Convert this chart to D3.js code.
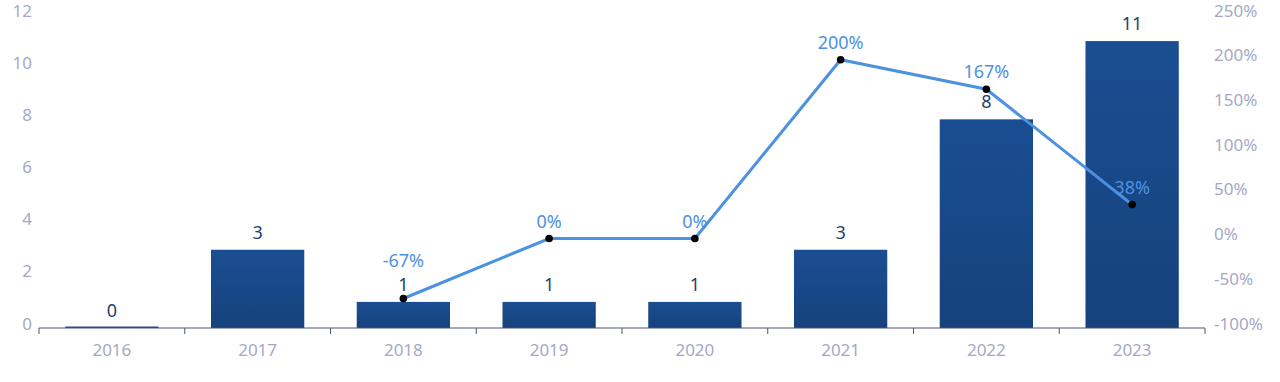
<!DOCTYPE html>
<html>
<head>
<meta charset="utf-8">
<script src="https://cdn.jsdelivr.net/npm/d3@7/dist/d3.min.js"></script>
<style>
  body { margin: 0; background: #fff; }
  svg { display: block; font-family: "Noto Sans", sans-serif; }
</style>
</head>
<body>
<div id="chart"></div>
<script>
const years = ['2016', '2017', '2018', '2019', '2020', '2021', '2022', '2023'];
const counts = [0, 3, 1, 1, 1, 3, 8, 11];
// growth vs previous year, null where there is no value
const growth = [null, null, -67, 0, 0, 200, 167, 38];
const leftTicks = [0, 2, 4, 6, 8, 10, 12];
const rightTicks = [-100, -50, 0, 50, 100, 150, 200, 250];

const W = 1280, H = 382;
const margin = { top: 15, right: 75, bottom: 54, left: 39 };
const iw = W - margin.left - margin.right;
const ih = H - margin.top - margin.bottom;

const svg = d3.select('#chart').append('svg').attr('width', W).attr('height', H);

const defs = svg.append('defs');
const grad = defs.append('linearGradient').attr('id', 'barGrad')
  .attr('x1', 0).attr('y1', 0).attr('x2', 0).attr('y2', 1);
grad.append('stop').attr('offset', '0%').attr('stop-color', '#1a4e92');
grad.append('stop').attr('offset', '100%').attr('stop-color', '#16427c');

const g = svg.append('g').attr('transform', `translate(${margin.left},${margin.top})`);

const x = d3.scaleBand().domain(years).range([0, iw]).paddingInner(0.36).paddingOuter(0.18);
const xb = d3.scaleLinear().domain([0, years.length]).range([0, iw]);
const y = d3.scaleLinear().domain([0, 12]).range([ih, 0]);
const y2 = d3.scaleLinear().domain([-100, 250]).range([ih, 0]);

const tickColor = '#a5a9c4';

// left axis labels
g.append('g').selectAll('text').data(leftTicks).enter().append('text')
  .attr('x', -7).attr('y', d => y(d) - 3)
  .attr('text-anchor', 'end').attr('dominant-baseline', 'middle')
  .attr('fill', tickColor).attr('font-size', 17).text(d => d);

// right axis labels
g.append('g').selectAll('text').data(rightTicks).enter().append('text')
  .attr('x', iw + 9).attr('y', d => y2(d) - 3)
  .attr('text-anchor', 'start').attr('dominant-baseline', 'middle')
  .attr('fill', tickColor).attr('font-size', 17).text(d => d + '%');

// bars
g.append('g').selectAll('rect').data(counts).enter().append('rect')
  .attr('x', (d, i) => x(years[i]))
  .attr('width', x.bandwidth())
  .attr('y', d => Math.min(y(d), ih - 1.5))
  .attr('height', d => Math.max(ih - y(d), 1.5))
  .attr('fill', 'url(#barGrad)');

// x axis
const axis = g.append('g').attr('transform', `translate(0,${ih})`);
axis.append('line').attr('x1', 0).attr('x2', iw).attr('stroke', '#4b5670').attr('stroke-width', 1.2);
axis.selectAll('line.tick').data(d3.range(years.length + 1)).enter().append('line')
  .attr('class', 'tick')
  .attr('x1', d => xb(d)).attr('x2', d => xb(d))
  .attr('y1', 0).attr('y2', 6)
  .attr('stroke', '#4b5670').attr('stroke-width', 1);
axis.selectAll('text').data(years).enter().append('text')
  .attr('x', d => x(d) + x.bandwidth() / 2).attr('y', 28)
  .attr('text-anchor', 'middle').attr('fill', tickColor).attr('font-size', 17)
  .text(d => d);

// bar value labels
g.append('g').selectAll('text').data(counts).enter().append('text')
  .attr('x', (d, i) => x(years[i]) + x.bandwidth() / 2)
  .attr('y', d => y(d) - 11)
  .attr('text-anchor', 'middle').attr('fill', '#1d3f72').attr('font-size', 18)
  .text(d => d);

// growth line
const pts = growth.map((v, i) => ({ i, v })).filter(d => d.v !== null);
const cx = d => x(years[d.i]) + x.bandwidth() / 2;
const line = d3.line().x(cx).y(d => y2(d.v));
g.append('path').datum(pts).attr('d', line)
  .attr('fill', 'none').attr('stroke', '#4d91e1').attr('stroke-width', 3);
g.append('g').selectAll('circle').data(pts).enter().append('circle')
  .attr('cx', cx).attr('cy', d => y2(d.v)).attr('r', 3.8).attr('fill', '#000');

// growth labels, pushed up when they would sit on a bar label
g.append('g').selectAll('text').data(pts).enter().append('text')
  .attr('x', cx)
  .attr('y', d => {
    let ly = y2(d.v) - 11;
    const by = y(counts[d.i]) - 11;
    if (Math.abs(ly - by) < 16) ly = Math.min(ly, by) - 20;
    return ly;
  })
  .attr('text-anchor', 'middle').attr('fill', '#4d91e1').attr('font-size', 18)
  .text(d => d.v + '%');
</script>
</body>
</html>
